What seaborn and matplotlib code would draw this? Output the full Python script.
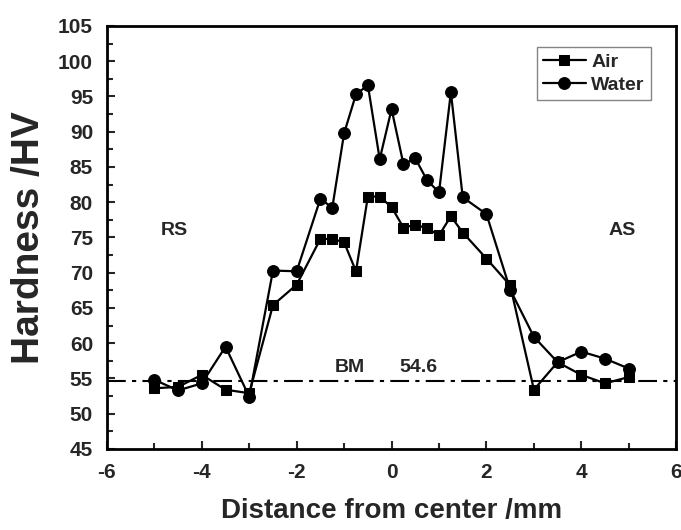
import numpy as np
import pandas as pd
import seaborn as sns
import matplotlib
matplotlib.use('Agg')
import matplotlib.pyplot as plt
from matplotlib.ticker import MultipleLocator

# distance from weld center (mm)
distance = [-5, -4.5, -4, -3.5, -3, -2.5, -2, -1.5, -1.25, -1, -0.75, -0.5, -0.25,
            0, 0.25, 0.5, 0.75, 1, 1.25, 1.5, 2, 2.5, 3, 3.5, 4, 4.5, 5]

air = [53.6, 53.8, 55.5, 53.4, 52.9, 65.4, 68.3, 74.8, 74.8, 74.3, 70.2, 80.8, 80.8,
       79.3, 76.4, 76.8, 76.3, 75.3, 78.0, 75.7, 72.0, 68.2, 53.4, 57.3, 55.5, 54.3, 55.2]

water = [54.8, 53.3, 54.3, 59.5, 52.4, 70.3, 70.2, 80.5, 79.2, 89.8, 95.3, 96.6, 86.1,
         93.2, 85.4, 86.2, 83.1, 81.4, 95.6, 80.7, 78.3, 67.6, 60.9, 57.3, 58.8, 57.8, 56.4]

bm_value = 54.6

df = pd.concat([
    pd.DataFrame({'x': distance, 'hv': air, 'cooling': 'Air'}),
    pd.DataFrame({'x': distance, 'hv': water, 'cooling': 'Water'}),
])

sns.set_style('ticks')
plt.rcParams['font.family'] = ['Liberation Sans', 'DejaVu Sans']
plt.rcParams['font.weight'] = 'bold'
plt.rcParams['axes.unicode_minus'] = False
plt.rcParams['xtick.direction'] = 'in'
plt.rcParams['ytick.direction'] = 'in'

fig = plt.figure(figsize=(6.81, 5.30), dpi=100)
ax = fig.add_axes([0.157, 0.153, 0.836, 0.798])

ax.axhline(bm_value, color='k', lw=1.5, ls=(0, (9, 3, 2, 3)), zorder=1)

sns.lineplot(data=df, x='x', y='hv', hue='cooling', style='cooling',
             markers={'Air': 's', 'Water': 'o'}, dashes=False,
             palette={'Air': 'k', 'Water': 'k'}, markersize=8,
             markeredgecolor='k', linewidth=1.6, ax=ax, zorder=3)
# squares look bigger than circles at the same size
for ln in ax.lines:
    if ln.get_marker() == 's':
        ln.set_markersize(7)
    elif ln.get_marker() == 'o':
        ln.set_markersize(8.5)

ax.set_xlim(-6, 6)
ax.set_ylim(45, 105)
ax.xaxis.set_major_locator(MultipleLocator(2))
ax.xaxis.set_minor_locator(MultipleLocator(1))
ax.yaxis.set_major_locator(MultipleLocator(5))
ax.yaxis.set_minor_locator(MultipleLocator(2.5))
ax.tick_params(which='major', length=6, width=1.5, labelsize=15)
ax.tick_params(axis='y', pad=10)
ax.tick_params(axis='x', pad=10)
ax.tick_params(which='minor', length=4, width=1.5)
for lab in ax.get_xticklabels() + ax.get_yticklabels():
    lab.set_fontweight('bold')
for sp in ax.spines.values():
    sp.set_linewidth(2)
    sp.set_color('k')

ax.set_xlabel('Distance from center /mm', fontsize=20, fontweight='bold', labelpad=12)
ax.set_ylabel('Hardness /HV', fontsize=28, fontweight='bold', labelpad=8)

ax.text(-4.57, 76, 'RS', fontsize=14, fontweight='bold', ha='center', va='center')
ax.text(4.86, 76, 'AS', fontsize=14, fontweight='bold', ha='center', va='center')
ax.text(-0.87, 56.5, 'BM', fontsize=14, fontweight='bold', ha='center', va='center')
ax.text(0.56, 56.5, '54.6', fontsize=14, fontweight='bold', ha='center', va='center')

leg = ax.legend(title=None, loc='upper right', bbox_to_anchor=(0.955, 0.95),
                borderaxespad=0, fontsize=14, frameon=True, fancybox=False,
                handlelength=2.2, handletextpad=0.3, borderpad=0.3, labelspacing=0.3)
leg.get_frame().set_edgecolor('0.4')
leg.get_frame().set_linewidth(1)
for t in leg.get_texts():
    t.set_fontweight('bold')

fig.savefig('out.png', dpi=100)
